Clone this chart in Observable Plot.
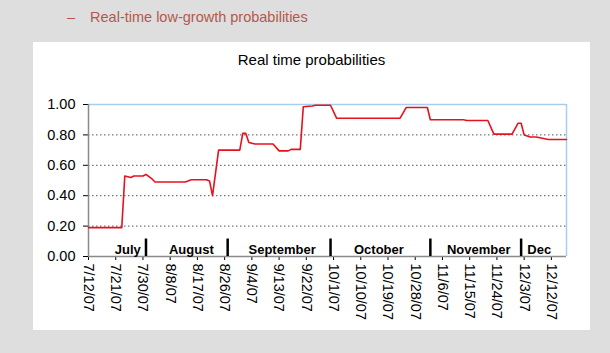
<!DOCTYPE html>
<html>
<head>
<meta charset="utf-8">
<script src="https://cdn.jsdelivr.net/npm/d3@7"></script>
<script src="https://cdn.jsdelivr.net/npm/@observablehq/plot@0.6"></script>
<style>
  body { margin:0; background:#dedede; width:610px; height:353px; position:relative; overflow:hidden; font-family:"Liberation Sans", Arial, sans-serif; }
  #hdr { position:absolute; left:67px; top:9px; font-size:14.5px; color:#b5584b; white-space:nowrap; }
  #panel { position:absolute; left:33px; top:42px; width:557px; height:288px; background:#fff; }
  #chart { position:absolute; left:0; top:0; }
  #title { position:absolute; left:0; width:557px; top:9px; text-align:center; font-size:15px; color:#000; }
  #chart g[aria-label^="x-axis"] text { font-size:14.5px; }
  #chart g[aria-label^="y-axis"] text { font-size:14.5px; }
</style>
</head>
<body>
<div id="hdr">–<span style="margin-left:15px">Real-time low-growth probabilities</span></div>
<div id="panel">
  <div id="chart"></div>
  <div id="title">Real time probabilities</div>
</div>
<script>
const obsDates = ["2007-07-12","2007-07-23","2007-07-24","2007-07-26","2007-07-27","2007-07-30","2007-07-31","2007-08-02","2007-08-03","2007-08-13","2007-08-15","2007-08-20","2007-08-21","2007-08-22","2007-08-24","2007-08-31","2007-09-01","2007-09-02","2007-09-03","2007-09-05","2007-09-11","2007-09-13","2007-09-16","2007-09-17","2007-09-20","2007-09-21","2007-09-24","2007-09-25","2007-09-30","2007-10-02","2007-10-23","2007-10-25","2007-11-01","2007-11-02","2007-11-13","2007-11-14","2007-11-21","2007-11-23","2007-11-29","2007-12-01","2007-12-02","2007-12-03","2007-12-05","2007-12-07","2007-12-11","2007-12-17"];
const obsValues = [0.19,0.19,0.53,0.52,0.53,0.53,0.54,0.51,0.49,0.49,0.505,0.505,0.497,0.40,0.70,0.70,0.81,0.81,0.75,0.74,0.74,0.695,0.695,0.705,0.705,0.985,0.99,0.995,0.995,0.91,0.91,0.98,0.98,0.90,0.90,0.895,0.895,0.805,0.805,0.877,0.877,0.80,0.786,0.786,0.77,0.77];

const xDomain = ["2007-07-12","2007-12-17"];
const tickDates = ["2007-07-12","2007-07-21","2007-07-30","2007-08-08","2007-08-17","2007-08-26","2007-09-04","2007-09-13","2007-09-22","2007-10-01","2007-10-10","2007-10-19","2007-10-28","2007-11-06","2007-11-15","2007-11-24","2007-12-03","2007-12-12"];
const yTicks = [0, 0.2, 0.4, 0.6, 0.8, 1.0];
const gridValues = [0.2, 0.4, 0.6, 0.8];

const monthNames = ["July","August","September","October","November","Dec"];
const monthLabelDates = ["2007-07-25","2007-08-15","2007-09-14","2007-10-16","2007-11-18","2007-12-08"];
const separatorDates = ["2007-07-31","2007-08-27","2007-09-30","2007-11-02","2007-12-02"];

const P = d3.utcParse("%Y-%m-%d");
const series = obsDates.map((d, i) => ({date: P(d), value: obsValues[i]}));
const months = monthNames.map((m, i) => ({date: P(monthLabelDates[i]), name: m}));
const seps = separatorDates.map(P);
const dom = xDomain.map(P);

const chart = Plot.plot({
  width: 557,
  height: 288,
  marginLeft: 55,
  marginTop: 62,
  marginRight: 24,
  marginBottom: 74,
  style: {background: "transparent", fontFamily: "Liberation Sans, Arial, sans-serif", fontSize: "14px", color: "#000"},
  x: {
    type: "utc",
    domain: dom,
    ticks: tickDates.map(P),
    tickFormat: d3.utcFormat("%-m/%-d/%y"),
    tickRotate: 90,
    tickSize: 4,
    tickPadding: 3,
    label: null
  },
  y: {
    domain: [0, 1],
    ticks: yTicks,
    tickFormat: d3.format(".2f"),
    tickSize: 5,
    tickPadding: 8,
    label: null
  },
  marks: [
    Plot.ruleY(gridValues, {stroke: "#555", strokeDasharray: "1.5,2.5", strokeWidth: 1}),
    Plot.ruleY([1], {stroke: "#a9cdef", strokeWidth: 1.5}),
    Plot.ruleX([dom[1]], {stroke: "#a9cdef", strokeWidth: 1.5}),
    Plot.ruleY([0], {stroke: "#8a8a8a", strokeWidth: 1.5}),
    Plot.ruleX([dom[0]], {stroke: "#8a8a8a", strokeWidth: 1.5}),
    Plot.line(series, {x: "date", y: "value", stroke: "#e5121e", strokeWidth: 1.6}),
    Plot.ruleX(seps, {y1: 0, y2: 0.115, stroke: "#000", strokeWidth: 2.5}),
    Plot.text(months, {x: "date", y: 0, text: "name", lineAnchor: "bottom", dy: -3, fontWeight: "bold", fontSize: 13, fill: "#000"})
  ]
});
document.getElementById("chart").appendChild(chart);
</script>
</body>
</html>
